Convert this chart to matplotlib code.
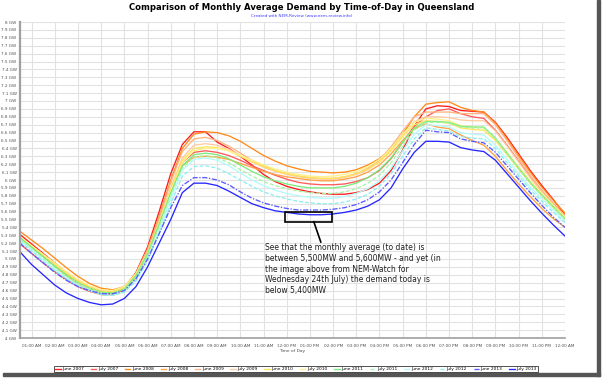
import matplotlib
matplotlib.use("Agg")
import matplotlib.pyplot as plt
from matplotlib.patches import Rectangle

# half-hourly time of day (hours), 00:30 .. 24:00
hours = [h / 2 for h in range(1, 49)]

series_names = ["June 2007", "July 2007", "June 2008", "July 2008", "June 2009", "July 2009",
                "June 2010", "July 2010", "June 2011", "July 2011", "June 2012", "July 2012",
                "June 2013", "July 2013"]

june_2007 = [5.31, 5.19, 5.07, 4.95, 4.83, 4.72, 4.63, 4.57, 4.56, 4.62, 4.83, 5.15,
             5.60, 6.08, 6.45, 6.61, 6.61, 6.48, 6.40, 6.30, 6.19, 6.07, 5.98, 5.92,
             5.88, 5.85, 5.83, 5.82, 5.82, 5.84, 5.88, 5.96, 6.12, 6.38, 6.68, 6.90,
             6.94, 6.93, 6.88, 6.87, 6.86, 6.73, 6.54, 6.33, 6.12, 5.93, 5.75, 5.56]
july_2007 = [5.19, 5.07, 4.95, 4.84, 4.74, 4.65, 4.59, 4.55, 4.55, 4.60, 4.78, 5.08,
             5.47, 5.88, 6.22, 6.35, 6.37, 6.35, 6.31, 6.25, 6.18, 6.12, 6.06, 6.01,
             5.97, 5.95, 5.94, 5.94, 5.95, 5.98, 6.03, 6.12, 6.27, 6.48, 6.68, 6.80,
             6.88, 6.90, 6.84, 6.80, 6.78, 6.63, 6.44, 6.24, 6.04, 5.86, 5.70, 5.54]
june_2008 = [5.35, 5.24, 5.13, 5.01, 4.89, 4.78, 4.69, 4.63, 4.61, 4.65, 4.82, 5.12,
             5.54, 6.00, 6.40, 6.58, 6.61, 6.60, 6.56, 6.49, 6.40, 6.31, 6.24, 6.18,
             6.14, 6.11, 6.10, 6.09, 6.10, 6.13, 6.19, 6.27, 6.40, 6.58, 6.80, 6.96,
             6.98, 6.99, 6.92, 6.88, 6.86, 6.72, 6.52, 6.31, 6.10, 5.91, 5.74, 5.58]
july_2008 = [5.27, 5.15, 5.03, 4.91, 4.79, 4.68, 4.60, 4.55, 4.54, 4.59, 4.76, 5.06,
             5.45, 5.86, 6.18, 6.29, 6.30, 6.29, 6.26, 6.21, 6.16, 6.11, 6.07, 6.04,
             6.02, 6.00, 5.99, 5.99, 6.01, 6.04, 6.10, 6.19, 6.33, 6.50, 6.65, 6.71,
             6.67, 6.65, 6.57, 6.50, 6.44, 6.30, 6.12, 5.95, 5.79, 5.64, 5.51, 5.40]
june_2009 = [5.28, 5.16, 5.05, 4.94, 4.83, 4.73, 4.65, 4.60, 4.59, 4.64, 4.82, 5.12,
             5.52, 5.97, 6.36, 6.52, 6.54, 6.50, 6.43, 6.34, 6.25, 6.18, 6.12, 6.08,
             6.05, 6.03, 6.02, 6.02, 6.04, 6.08, 6.15, 6.25, 6.42, 6.62, 6.80, 6.86,
             6.86, 6.86, 6.84, 6.84, 6.84, 6.70, 6.50, 6.28, 6.06, 5.87, 5.70, 5.55]
july_2009 = [5.25, 5.14, 5.03, 4.92, 4.81, 4.71, 4.63, 4.58, 4.57, 4.62, 4.79, 5.08,
             5.47, 5.90, 6.28, 6.44, 6.46, 6.44, 6.39, 6.31, 6.23, 6.16, 6.11, 6.07,
             6.04, 6.02, 6.01, 6.01, 6.03, 6.07, 6.13, 6.23, 6.38, 6.57, 6.74, 6.80,
             6.80, 6.79, 6.76, 6.75, 6.75, 6.62, 6.43, 6.23, 6.03, 5.85, 5.68, 5.53]
june_2010 = [5.26, 5.15, 5.04, 4.93, 4.82, 4.72, 4.64, 4.59, 4.58, 4.63, 4.80, 5.08,
             5.46, 5.88, 6.25, 6.40, 6.42, 6.41, 6.37, 6.30, 6.23, 6.17, 6.12, 6.08,
             6.05, 6.03, 6.02, 6.02, 6.04, 6.08, 6.14, 6.23, 6.37, 6.55, 6.70, 6.75,
             6.74, 6.72, 6.66, 6.64, 6.63, 6.50, 6.32, 6.14, 5.96, 5.80, 5.65, 5.50]
july_2010 = [5.28, 5.17, 5.06, 4.95, 4.84, 4.74, 4.66, 4.61, 4.60, 4.65, 4.81, 5.08,
             5.45, 5.86, 6.22, 6.37, 6.40, 6.40, 6.37, 6.31, 6.25, 6.19, 6.14, 6.10,
             6.07, 6.05, 6.04, 6.05, 6.07, 6.11, 6.17, 6.26, 6.40, 6.58, 6.73, 6.78,
             6.77, 6.75, 6.69, 6.67, 6.66, 6.53, 6.35, 6.17, 5.99, 5.83, 5.68, 5.53]
june_2011 = [5.27, 5.15, 5.03, 4.91, 4.80, 4.70, 4.63, 4.58, 4.57, 4.62, 4.79, 5.07,
             5.44, 5.84, 6.18, 6.32, 6.34, 6.32, 6.27, 6.19, 6.11, 6.04, 5.99, 5.95,
             5.92, 5.90, 5.90, 5.90, 5.92, 5.96, 6.03, 6.13, 6.28, 6.48, 6.66, 6.74,
             6.74, 6.73, 6.68, 6.67, 6.67, 6.53, 6.34, 6.15, 5.97, 5.81, 5.66, 5.51]
july_2011 = [5.25, 5.13, 5.01, 4.89, 4.78, 4.69, 4.62, 4.57, 4.56, 4.61, 4.77, 5.04,
             5.40, 5.80, 6.15, 6.29, 6.31, 6.28, 6.22, 6.13, 6.05, 5.98, 5.93, 5.89,
             5.86, 5.84, 5.83, 5.83, 5.85, 5.89, 5.96, 6.06, 6.22, 6.43, 6.63, 6.73,
             6.73, 6.72, 6.67, 6.66, 6.66, 6.52, 6.33, 6.14, 5.96, 5.80, 5.65, 5.50]
june_2012 = [5.24, 5.12, 4.99, 4.87, 4.76, 4.67, 4.60, 4.55, 4.54, 4.59, 4.74, 5.00,
             5.36, 5.76, 6.12, 6.26, 6.28, 6.25, 6.18, 6.09, 6.00, 5.93, 5.87, 5.83,
             5.80, 5.78, 5.77, 5.77, 5.79, 5.83, 5.89, 5.99, 6.15, 6.37, 6.58, 6.70,
             6.69, 6.67, 6.60, 6.58, 6.57, 6.44, 6.26, 6.08, 5.91, 5.76, 5.62, 5.48]
july_2012 = [5.22, 5.10, 4.97, 4.85, 4.75, 4.66, 4.60, 4.55, 4.54, 4.58, 4.72, 4.98,
             5.32, 5.70, 6.05, 6.17, 6.18, 6.15, 6.08, 6.00, 5.92, 5.85, 5.80, 5.76,
             5.73, 5.71, 5.70, 5.70, 5.72, 5.76, 5.82, 5.92, 6.08, 6.30, 6.52, 6.66,
             6.64, 6.62, 6.55, 6.53, 6.52, 6.40, 6.22, 6.05, 5.88, 5.73, 5.59, 5.46]
june_2013 = [5.20, 5.07, 4.95, 4.83, 4.73, 4.65, 4.60, 4.56, 4.56, 4.60, 4.75, 5.00,
             5.32, 5.65, 5.93, 6.03, 6.03, 6.00, 5.94, 5.85, 5.77, 5.71, 5.67, 5.64,
             5.62, 5.62, 5.62, 5.63, 5.65, 5.69, 5.75, 5.85, 6.00, 6.22, 6.45, 6.63,
             6.61, 6.60, 6.52, 6.49, 6.47, 6.35, 6.18, 6.01, 5.84, 5.68, 5.53, 5.40]
july_2013 = [5.09, 4.93, 4.80, 4.67, 4.57, 4.50, 4.45, 4.42, 4.43, 4.50, 4.65, 4.90,
             5.20, 5.50, 5.84, 5.96, 5.96, 5.93, 5.86, 5.78, 5.70, 5.65, 5.61, 5.59,
             5.57, 5.56, 5.56, 5.57, 5.59, 5.62, 5.67, 5.75, 5.90, 6.14, 6.35, 6.49,
             6.49, 6.48, 6.41, 6.38, 6.36, 6.25, 6.08, 5.91, 5.74, 5.58, 5.43, 5.29]

all_series = [june_2007, july_2007, june_2008, july_2008, june_2009, july_2009,
              june_2010, july_2010, june_2011, july_2011, june_2012, july_2012,
              june_2013, july_2013]

colors = ["#FF1A1A", "#FF5A5A", "#FF8A1A", "#FFA245", "#FFB47E", "#FFCBA0",
          "#FFE45A", "#FFF28A", "#7CEB7C", "#A6F5A6", "#B5FAFA", "#8CEFEF",
          "#5A5AFF", "#2626FF"]
styles = ["-", "-", "-", "-", "-", "-", "-", "-", "-", (0, (3, 1.5)),
          "-", (0, (3, 1.5)), (0, (4, 1.2, 1, 1.2)), "-"]

x_ticks = list(range(1, 25))
x_labels = ["%02d:00 AM" % h for h in range(1, 12)] + ["12:00 PM"] + \
           ["%02d:00 PM" % h for h in range(1, 12)] + ["12:00 AM"]
y_ticks = [round(4 + i * 0.1, 1) for i in range(41)]

note = ("See that the monthly average (to date) is\n"
        "between 5,500MW and 5,600MW - and yet (in\n"
        "the image above from NEM-Watch for\n"
        "Wednesday 24th July) the demand today is\n"
        "below 5,400MW")

fig = plt.figure(figsize=(6.04, 3.79), dpi=100)
ax = fig.add_axes([20 / 604, 1 - 338 / 379, 545 / 604, 316 / 379])

for name, vals, c, ls in zip(series_names, all_series, colors, styles):
    ax.plot(hours, vals, color=c, linestyle=ls, linewidth=0.95, label=name)

ax.set_xlim(0.5, 24)
ax.set_ylim(4, 8)
ax.set_xticks(x_ticks)
ax.set_xticklabels(x_labels, fontsize=3.0, color="#505050")
ax.set_yticks(y_ticks)
ax.set_yticklabels([("%g GW" % v) for v in y_ticks], fontsize=3.0, color="#505050")
ax.tick_params(axis="y", length=0, pad=2.5)
ax.tick_params(axis="x", length=0, pad=4)
ax.grid(True, color="#E2E2E2", linewidth=0.8)
ax.set_axisbelow(True)
for s in ["top", "right"]:
    ax.spines[s].set_visible(False)
ax.spines["left"].set_color("#A0A0A0")
ax.spines["left"].set_linewidth(1.6)
ax.spines["bottom"].set_color("#A0A0A0")
ax.spines["bottom"].set_linewidth(1.2)
ax.set_xlabel("Time of Day", fontsize=3.2, color="#505050", labelpad=1)

# annotation box and callout
ax.add_patch(Rectangle((11.92, 5.47), 2.03, 0.125, fill=False, edgecolor="black",
                       linewidth=1.2, zorder=5))
ax.plot([13.17, 13.47], [5.47, 5.215], color="black", linewidth=1.2, zorder=5)
ax.text(11.06, 5.2, note, fontsize=5.5, va="top", ha="left", color="#202020",
        linespacing=1.25, zorder=6)

fig.text(0.5, 1 - 7 / 379, "Comparison of Monthly Average Demand by Time-of-Day in Queensland",
         ha="center", va="center", fontsize=6.1, fontweight="bold", color="black")
fig.text(0.5, 1 - 16 / 379, "Created with NEM-Review (www.nem-review.info)",
         ha="center", va="center", fontsize=2.95, color="#3A3AFF")

leg = fig.legend(loc="center", bbox_to_anchor=(296 / 604, 1 - 369 / 379), ncol=14,
                 fontsize=3.2, handlelength=1.2, handletextpad=0.4, columnspacing=1.5,
                 frameon=True, fancybox=False, borderpad=0.25, edgecolor="black")
leg.get_frame().set_linewidth(0.6)

# picture shadow on right and bottom
fig.patches.append(Rectangle((597 / 604, 3 / 379), 3 / 604, 376 / 379, transform=fig.transFigure,
                             color="#555555", zorder=0))
fig.patches.append(Rectangle((3 / 604, 3 / 379), 597 / 604, 3 / 379, transform=fig.transFigure,
                             color="#555555", zorder=0))

fig.savefig("out.png", dpi=100)
